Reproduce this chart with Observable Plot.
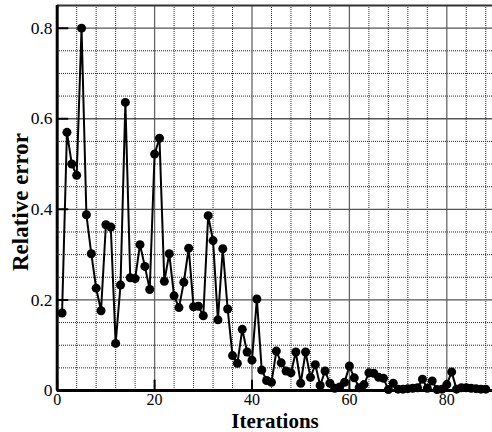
<!DOCTYPE html>
<html><head><meta charset="utf-8">
<script src="https://cdn.jsdelivr.net/npm/d3@7"></script>
<script src="https://cdn.jsdelivr.net/npm/@observablehq/plot@0.6"></script>
<style>html,body{margin:0;padding:0;background:#fff;overflow:hidden}
#chart svg text{font-family:'Liberation Serif','Times New Roman',serif !important}</style>
</head><body><div id="chart"></div>
<script>
const iterations = [1,2,3,4,5,6,7,8,9,10,11,12,13,14,15,16,17,18,19,20,21,22,23,24,25,26,27,28,29,30,31,32,33,34,35,36,37,38,39,40,41,42,43,44,45,46,47,48,49,50,51,52,53,54,55,56,57,58,59,60,61,62,63,64,65,66,67,68,69,70,71,72,73,74,75,76,77,78,79,80,81,82,83,84,85,86,87,88];
const relativeError = [0.171,0.570,0.500,0.475,0.800,0.388,0.302,0.226,0.176,0.366,0.361,0.104,0.233,0.636,0.249,0.247,0.322,0.274,0.223,0.522,0.557,0.241,0.302,0.209,0.183,0.239,0.314,0.185,0.186,0.165,0.386,0.331,0.156,0.313,0.180,0.077,0.060,0.135,0.085,0.067,0.202,0.045,0.022,0.018,0.087,0.061,0.043,0.039,0.085,0.016,0.085,0.029,0.057,0.011,0.043,0.016,0.005,0.008,0.018,0.054,0.028,0.006,0.013,0.039,0.038,0.029,0.027,0.002,0.016,0.003,0.003,0.004,0.005,0.006,0.025,0.005,0.021,0.002,0.003,0.013,0.041,0.003,0.006,0.006,0.005,0.004,0.003,0.003];
const xMajorTicks = [0,20,40,60,80];
const xMinorTicks = [4,8,12,16,24,28,32,36,44,48,52,56,64,68,72,76,84,88];
const yMajorTicks = [0,0.2,0.4,0.6,0.8];
const yMinorTicks = [0.05,0.1,0.15,0.25,0.3,0.35,0.45,0.5,0.55,0.65,0.7,0.75];
const xLabel = "Iterations";
const yLabel = "Relative error";

const data = iterations.map((it, i) => ({it, err: relativeError[i]}));
const serif = "'Liberation Serif', 'Times New Roman', serif";
const tickShape = {draw(ctx, l) { ctx.moveTo(0, 0); ctx.lineTo(0, -l); }};

const chart = Plot.plot({
  width: 492,
  height: 432,
  marginLeft: 57,
  marginRight: 0,
  marginTop: 5,
  marginBottom: 42,
  style: {fontFamily: serif, fontSize: "17px", color: "#000", background: "#fff"},
  x: {domain: [0, 90], range: [56.7, 495]},
  y: {domain: [0, 0.85]},
  marks: [
    Plot.ruleX(xMinorTicks, {stroke: "#000", strokeWidth: 1, strokeDasharray: "1,1", strokeOpacity: 0.85}),
    Plot.ruleY(yMinorTicks, {stroke: "#000", strokeWidth: 1, strokeDasharray: "1,1", strokeOpacity: 0.85}),
    Plot.ruleX(xMajorTicks.filter(d => d > 0), {stroke: "#666", strokeWidth: 1.3}),
    Plot.ruleY(yMajorTicks.filter(d => d > 0), {stroke: "#555", strokeWidth: 1.3}),
    Plot.vector(yMajorTicks, {y: d => d, frameAnchor: "left", rotate: 90, length: 10, anchor: "start", shape: tickShape, stroke: "#000", strokeWidth: 2}),
    Plot.vector(xMajorTicks, {x: d => d, frameAnchor: "bottom", rotate: 0, length: 10, anchor: "start", shape: tickShape, stroke: "#000", strokeWidth: 2}),
    Plot.axisY({ticks: yMajorTicks, tickSize: 0, tickPadding: 5, label: null, tickFormat: d => String(d), fontSize: 17.5, fontFamily: serif}),
    Plot.axisX({ticks: xMajorTicks, tickSize: 0, tickPadding: 3, label: null, tickFormat: d => String(d), fontSize: 16, fontFamily: serif}),
    Plot.ruleY([0.85], {stroke: "#333", strokeWidth: 2}),
    Plot.ruleX([0], {stroke: "#000", strokeWidth: 3}),
    Plot.ruleY([0], {stroke: "#000", strokeWidth: 3}),
    Plot.line(data, {x: "it", y: "err", stroke: "#000", strokeWidth: 2}),
    Plot.dot(data, {x: "it", y: "err", r: 4.5, fill: "#000", stroke: "none"}),
    Plot.text([xLabel], {frameAnchor: "bottom", textAnchor: "middle", lineAnchor: "bottom", dy: 37, fontWeight: "bold", fontSize: 21, fontFamily: serif}),
    Plot.text([yLabel], {frameAnchor: "left", textAnchor: "middle", lineAnchor: "bottom", rotate: -90, dx: -30, dy: 4, fontWeight: "bold", fontSize: 23, fontFamily: serif})
  ]
});
document.getElementById("chart").appendChild(chart);
</script>
</body></html>
